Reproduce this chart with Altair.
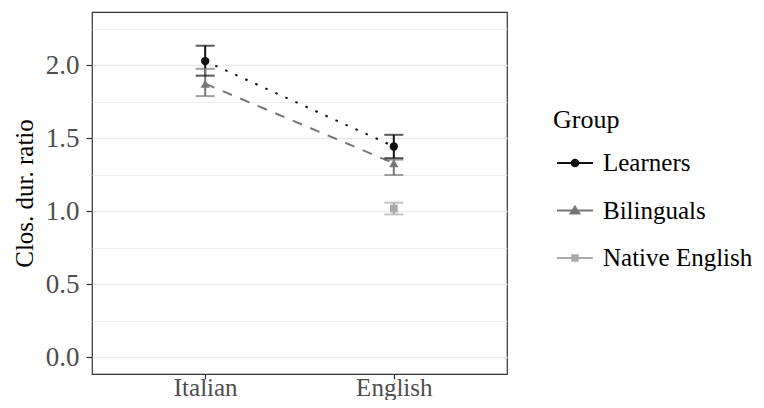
import altair as alt
import pandas as pd

groups = ["Learners", "Bilinguals", "Native English"]
languages = ["Italian", "English"]

group_col = ["Learners", "Learners", "Bilinguals", "Bilinguals", "Native English"]
lang_col = ["Italian", "English", "Italian", "English", "English"]
means = [2.03, 1.445, 1.875, 1.33, 1.02]
lowers = [1.93, 1.365, 1.79, 1.25, 0.98]
uppers = [2.135, 1.525, 1.977, 1.355, 1.06]

colors = ["#111111", "#777777", "#aaaaaa"]
shapes = ["circle", "triangle-up", "square"]
point_sizes = [70, 85, 60]
dashes = [[2.5, 8.5], [10, 9], [1, 0]]
legend_paths = [
    "M-1,0H1M0.18,0A0.18,0.18,0,1,1,-0.18,0A0.18,0.18,0,1,1,0.18,0Z",
    "M-1,0H1M0,-0.21L0.24,0.17L-0.24,0.17Z",
    "M-1,0H1M-0.15,-0.15H0.15V0.15H-0.15Z",
]
y_ticks = [0, 0.25, 0.5, 0.75, 1.0, 1.25, 1.5, 1.75, 2.0, 2.25]

df = pd.DataFrame({
    "Group": group_col,
    "Language": lang_col,
    "mean": means,
    "lower": lowers,
    "upper": uppers,
})

FONT = "Liberation Serif"

x_enc = alt.X(
    "Language:N",
    sort=languages,
    scale=alt.Scale(type="point", domain=languages, padding=0.6),
    axis=alt.Axis(title=None, labelAngle=0, labelPadding=-4, tickSize=5),
)

yscale = alt.Scale(domain=[-0.113, 2.366], nice=False, zero=False)
yaxis = alt.Axis(
    title="Clos. dur. ratio",
    values=y_ticks,
    labelExpr="datum.value % 0.5 == 0 ? format(datum.value, '.1f') : ''",
    labelOverlap=False,
    labelFontSize=27,
    tickOpacity={"condition": {"test": "datum.value % 0.5 != 0", "value": 0}, "value": 1},
    gridWidth={"condition": {"test": "datum.value % 0.5 != 0", "value": 0.8}, "value": 1.5},
    tickSize=6,
    labelPadding=7,
    titlePadding=8,
)

def y(field):
    return alt.Y(f"{field}:Q", scale=yscale, axis=yaxis)

# data-derived (sorted) domain for the plotted marks, so this hidden legend
# does not merge with the visible one below
color_enc = alt.Color("Group:N", sort=groups, scale=alt.Scale(range=colors), legend=None)

base = alt.Chart(df)

rule = base.mark_rule(strokeWidth=2).encode(x=x_enc, y=y("lower"), y2="upper:Q", color=color_enc)
tick_top = base.mark_tick(thickness=2, size=19).encode(x=x_enc, y=y("upper"), color=color_enc)
tick_bot = base.mark_tick(thickness=2, size=19).encode(x=x_enc, y=y("lower"), color=color_enc)

line = base.mark_line(strokeWidth=2).encode(
    x=x_enc,
    y=y("mean"),
    color=color_enc,
    strokeDash=alt.StrokeDash("Group:N", sort=groups, scale=alt.Scale(range=dashes), legend=None),
)

point_layers = []
for g, shp, sz in zip(groups, shapes, point_sizes):
    point_layers.append(
        base.transform_filter(alt.datum.Group == g)
        .mark_point(filled=True, opacity=1, shape=shp, size=sz)
        .encode(x=x_enc, y=y("mean"), color=color_enc)
    )

leg = alt.Legend(
    title="Group",
    orient="none",
    legendX=461,
    legendY=95,
    padding=0,
    titleFont=FONT,
    titleFontSize=26,
    titleFontWeight="normal",
    titleColor="black",
    titlePadding=11,
    labelFont=FONT,
    labelFontSize=25,
    labelColor="black",
    labelOffset=9,
    symbolOffset=3,
    symbolSize=1296,
    symbolStrokeWidth=2,
    symbolOpacity=1,
    rowPadding=15.5,
)

legend_layer = (
    base.mark_point(filled=True, opacity=0, strokeWidth=2)
    .encode(
        x=x_enc,
        y=y("mean"),
        fill=alt.Fill("Group:N", scale=alt.Scale(domain=groups, range=colors), legend=leg),
        stroke=alt.Stroke("Group:N", scale=alt.Scale(domain=groups, range=colors), legend=leg),
        shape=alt.Shape("Group:N", scale=alt.Scale(domain=groups, range=legend_paths), legend=leg),
    )
)

chart = (
    alt.layer(rule, line, tick_top, tick_bot, *point_layers, legend_layer)
    .properties(
        width=415,
        height=362,
        autosize=alt.AutoSizeParams(type="none"),
        padding={"left": 84, "top": 4, "right": 249, "bottom": 26},
    )
    .configure_view(stroke="#333333", strokeWidth=1.2)
    .configure_axis(
        labelFont=FONT,
        labelFontSize=25,
        labelColor="#4d4d4d",
        tickColor="#333333",
        tickWidth=1.2,
        domain=False,
        gridColor="#ebebeb",
        titleFont=FONT,
        titleFontSize=25,
        titleFontWeight="normal",
        titleColor="black",
    )
)

chart.save("out.html", embed_options={"renderer": "svg", "actions": False})
